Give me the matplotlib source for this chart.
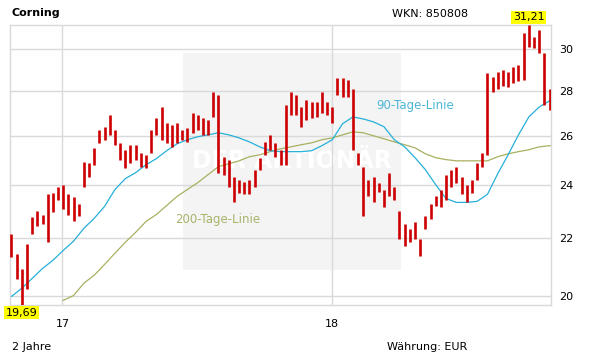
import matplotlib
matplotlib.use("Agg")
import matplotlib.pyplot as plt
import matplotlib.dates as mdates
from matplotlib.patches import Rectangle
import pandas as pd

# ---------------- data (weekly ranges) ----------------
week_start = "2016-10-24"
n_weeks = 106

highs = [22.12, 21.40, 20.88, 21.76, 22.74, 22.97, 22.85, 23.62, 23.69, 23.92,
         24.00, 23.62, 23.50, 23.23, 24.92, 24.88, 25.50, 26.27, 26.40, 26.92,
         26.27, 25.71, 25.42, 25.63, 25.63, 25.29, 25.21, 26.27, 26.79, 27.27,
         26.57, 26.48, 26.57, 26.27, 26.35, 27.01, 26.92, 26.79, 26.70, 27.95,
         27.82, 25.13, 25.01, 24.32, 24.20, 24.12, 24.20, 24.60, 25.09, 25.75,
         26.05, 25.71, 25.42, 27.36, 27.95, 27.82, 27.27, 27.59, 27.50, 27.50,
         27.95, 27.50, 27.27, 28.62, 28.62, 28.53, 28.08, 25.29, 24.72, 24.20,
         24.32, 24.08, 23.81, 24.48, 23.92, 22.97, 22.48, 22.30, 22.56, 21.94,
         22.78, 23.23, 23.54, 23.81, 24.40, 24.60, 24.72, 24.32, 24.00, 24.20,
         24.88, 25.29, 28.86, 28.67, 28.90, 29.00, 28.90, 29.13, 29.23, 30.80,
         31.21, 30.60, 30.96, 29.80, 28.08, 26.83]

lows = [21.30, 20.54, 19.69, 20.20, 22.12, 22.41, 22.48, 21.83, 22.93, 23.42,
        23.04, 22.85, 22.59, 22.78, 23.92, 24.32, 24.80, 25.71, 25.84, 26.05,
        25.63, 25.01, 24.68, 24.88, 25.01, 24.72, 24.68, 25.29, 26.05, 25.84,
        25.71, 25.54, 25.71, 25.84, 25.75, 26.14, 26.27, 26.05, 26.05, 26.83,
        24.48, 24.40, 23.92, 23.31, 23.69, 23.62, 23.62, 23.92, 24.60, 25.21,
        25.42, 25.13, 24.80, 24.80, 26.92, 26.92, 26.40, 26.70, 26.79, 26.83,
        27.01, 26.92, 26.57, 27.82, 27.73, 27.73, 25.42, 24.80, 22.78, 23.54,
        23.31, 23.73, 23.12, 23.54, 23.42, 21.94, 21.69, 21.83, 21.94, 21.33,
        22.30, 22.67, 23.16, 23.12, 23.42, 23.92, 24.08, 23.62, 23.31, 23.69,
        24.20, 24.72, 25.21, 27.95, 28.08, 28.21, 28.17, 28.39, 28.44, 28.53,
        30.10, 30.05, 29.80, 27.36, 27.14, 25.01]

# 90-day line, every second week (plus last week)
ma90 = [19.97, 20.24, 20.57, 20.91, 21.19, 21.54, 21.87, 22.34, 22.71, 23.16,
        23.81, 24.24, 24.48, 24.80, 25.05, 25.38, 25.67, 25.84, 25.97, 26.05,
        26.14, 26.05, 25.92, 25.75, 25.54, 25.38, 25.34, 25.34, 25.34, 25.38,
        25.59, 25.84, 26.53, 26.83, 26.74, 26.61, 26.40, 25.84, 25.54, 25.09,
        24.60, 24.00, 23.46, 23.31, 23.31, 23.35, 23.62, 24.44, 25.21, 26.05,
        26.83, 27.27, 27.55, 27.68]

# 200-day line, every second week from week 10 (plus last week)
ma200 = [19.84, 20.00, 20.41, 20.68, 21.05, 21.44, 21.83, 22.19, 22.59, 22.85,
         23.19, 23.54, 23.81, 24.08, 24.40, 24.72, 24.84, 24.96, 25.13, 25.21,
         25.34, 25.46, 25.54, 25.63, 25.71, 25.84, 25.92, 26.05, 26.18, 26.14,
         26.01, 25.88, 25.75, 25.63, 25.50, 25.25, 25.09, 25.01, 24.96, 24.96,
         24.96, 24.96, 25.13, 25.25, 25.34, 25.42, 25.54, 25.59, 25.59]

y_ticks = [20, 22, 24, 26, 28, 30]
x_tick_dates = ["2017-01-01", "2018-01-01"]
x_tick_labels = ["17", "18"]
max_label = "31,21"
min_label = "19,69"

# ---------------- drawing ----------------
dates = pd.date_range(week_start, periods=n_weeks, freq="7D")
ma90_dates = list(dates[0::2]) + [dates[-1]]
ma200_dates = list(dates[10::2]) + [dates[-1]]

W, H = 611, 364
fig = plt.figure(figsize=(W / 100, H / 100), dpi=100)
fig.patch.set_facecolor("white")
ax = fig.add_axes([10 / W, (H - 305) / H, 541 / W, 280 / H])
ax.set_yscale("log")
ax.set_ylim(19.69, 31.21)
ax.set_xlim(pd.Timestamp("2016-10-22"), pd.Timestamp("2018-10-24"))

grid_c = "#d9d9d9"
for s in ax.spines.values():
    s.set_color(grid_c)
    s.set_linewidth(1.0)

# watermark box + text
ax.add_patch(Rectangle((0.320, 0.125), 0.403, 0.775, transform=ax.transAxes,
                       facecolor="#f4f4f4", edgecolor="none", zorder=0))
ax.text(0.521, 0.515, "DER AKTIONÄR", transform=ax.transAxes, ha="center",
        va="center", fontsize=17, fontweight="bold", color="white", zorder=0.5)

# grid
ax.set_yticks(y_ticks)
ax.set_yticklabels([str(t) for t in y_ticks])
ax.yaxis.set_minor_locator(matplotlib.ticker.NullLocator())
ax.set_xticks([pd.Timestamp(d) for d in x_tick_dates])
ax.set_xticklabels(x_tick_labels)
ax.grid(True, color=grid_c, linewidth=1.0, zorder=1)
ax.set_axisbelow(True)
ax.yaxis.tick_right()
ax.tick_params(axis="y", length=0, pad=6, labelsize=8)
ax.tick_params(axis="x", length=0, pad=10, labelsize=8)

# lines
ax.plot(ma200_dates, ma200, color="#a9b060", linewidth=0.9, zorder=2)
ax.plot(ma90_dates, ma90, color="#25b0d8", linewidth=0.9, zorder=3)

# price ranges
ax.vlines(dates, lows, highs, color="#cc0000", linewidth=1.9, zorder=4)

# labels for lines
ax.text(0.677, 0.714, "90-Tage-Linie", transform=ax.transAxes, color="#4cb6d4",
        fontsize=8.5, va="center", ha="left")
ax.text(0.305, 0.304, "200-Tage-Linie", transform=ax.transAxes, color="#a9b46a",
        fontsize=8.5, va="center", ha="left")

# max / min labels
imax = highs.index(max(highs))
imin = lows.index(min(lows))
ax.annotate(max_label, (dates[imax], max(highs)), xytext=(0, 2),
            textcoords="offset points", ha="center", va="bottom", fontsize=8,
            bbox=dict(boxstyle="square,pad=0.15", facecolor="#ffff00", edgecolor="none"),
            annotation_clip=False, zorder=6)
ax.annotate(min_label, (dates[imin], min(lows)), xytext=(0, -2),
            textcoords="offset points", ha="center", va="top", fontsize=8,
            bbox=dict(boxstyle="square,pad=0.15", facecolor="#ffff00", edgecolor="none"),
            annotation_clip=False, zorder=6)

# header / footer
fig.text(12 / W, 1 - 13 / H, "Corning", fontsize=8, fontweight="bold", va="center", ha="left")
fig.text(468 / W, 1 - 14 / H, "WKN: 850808", fontsize=8, va="center", ha="right")
fig.text(12 / W, 1 - 347 / H, "2 Jahre", fontsize=8, va="center", ha="left")
fig.text(467 / W, 1 - 347 / H, "Währung: EUR", fontsize=8, va="center", ha="right")

fig.savefig("out.png", dpi=100)
